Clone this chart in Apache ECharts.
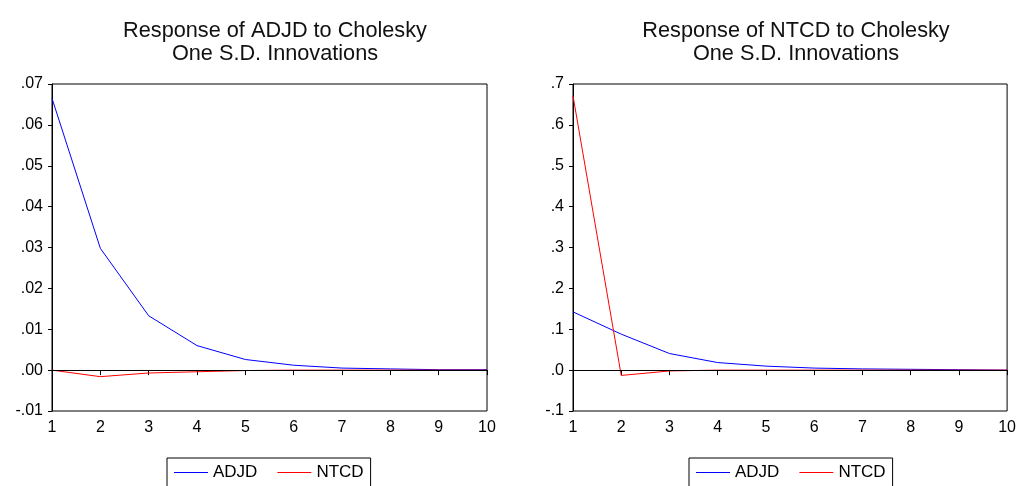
<!DOCTYPE html>
<html>
<head>
<meta charset="utf-8">
<script src="https://cdn.jsdelivr.net/npm/echarts@6/dist/echarts.min.js"></script>
<style>
  html, body { margin: 0; padding: 0; background: #fff; }
  #chart { width: 1019px; height: 486px; }
</style>
</head>
<body>
<div id="chart"></div>
<script>
// periods
var periods = [1, 2, 3, 4, 5, 6, 7, 8, 9, 10];

// response of ADJD
var adjdOnAdjd = [0.0665, 0.0298, 0.0133, 0.0060, 0.0026, 0.0012, 0.0005, 0.0003, 0.0001, 0.0001];
var adjdOnNtcd = [0.0, -0.0016, -0.0007, -0.0004, -0.0001, 0.0, 0.0, 0.0, 0.0, 0.0];

// response of NTCD
var ntcdOnAdjd = [0.1425, 0.088, 0.0406, 0.0185, 0.0098, 0.005, 0.003, 0.002, 0.001, 0.0];
var ntcdOnNtcd = [0.671, -0.013, -0.002, 0.0, 0.0, 0.0, 0.0, 0.0, 0.0, 0.0];

var seriesNames = ['ADJD', 'NTCD'];
var titles = ['Response of ADJD to Cholesky\nOne S.D. Innovations', 'Response of NTCD to Cholesky\nOne S.D. Innovations'];

function pairs(vals) {
    var out = [];
    for (var i = 0; i < periods.length; i++) {
        out.push([periods[i], vals[i]]);
    }
    return out;
}

function dotLabel(digits) {
    return function (v) {
        var s = v.toFixed(digits);
        return s.replace('0.', '.');
    };
}

var font = 'Arial, "Liberation Sans", sans-serif';
var blue = '#0000ff';
var red = '#ff0000';

function lineSeries(name, vals, idx, color, zero) {
    var s = {
        name: name,
        type: 'line',
        xAxisIndex: idx,
        yAxisIndex: idx,
        data: pairs(vals),
        showSymbol: false,
        symbol: 'none',
        animation: false,
        lineStyle: { color: color, width: 1 },
        itemStyle: { color: color }
    };
    if (zero) {
        s.markLine = {
            silent: true,
            symbol: 'none',
            label: { show: false },
            lineStyle: { color: '#000', width: 1, type: 'solid' },
            data: [{ yAxis: 0 }]
        };
    }
    return s;
}

function xAxis(idx) {
    return {
        type: 'value',
        gridIndex: idx,
        min: 1,
        max: 10,
        interval: 1,
        axisLine: { lineStyle: { color: '#000', width: 1 } },
        axisTick: { length: 5, lineStyle: { color: '#000' } },
        axisLabel: { color: '#000', fontSize: 16, fontFamily: font, margin: 9 },
        splitLine: { show: false }
    };
}

function yAxis(idx, min, max, step, digits) {
    return {
        type: 'value',
        gridIndex: idx,
        min: min,
        max: max,
        interval: step,
        axisLine: { show: true, lineStyle: { color: '#000', width: 1 } },
        axisTick: { show: true, length: 4, lineStyle: { color: '#000' } },
        axisLabel: { color: '#000', fontSize: 16, fontFamily: font, margin: 9, formatter: dotLabel(digits) },
        splitLine: { show: false }
    };
}

function legend(left) {
    return {
        data: seriesNames,
        left: left,
        top: 458,
        orient: 'horizontal',
        icon: 'rect',
        itemWidth: 34,
        itemHeight: 1,
        itemGap: 20,
        padding: [6, 7, 10, 7],
        borderColor: '#000',
        borderWidth: 1,
        selectedMode: false,
        textStyle: { color: '#000', fontSize: 17, fontFamily: font }
    };
}

var chart = echarts.init(document.getElementById('chart'));
chart.setOption({
    animation: false,
    color: [blue, red],
    title: [
        { text: titles[0], left: 270, top: 15, textAlign: 'center',
          textStyle: { fontSize: 21.7, fontWeight: 'normal', color: '#111', fontFamily: font, lineHeight: 23 } },
        { text: titles[1], left: 791, top: 15, textAlign: 'center',
          textStyle: { fontSize: 21.7, fontWeight: 'normal', color: '#111', fontFamily: font, lineHeight: 23 } }
    ],
    legend: [legend(167), legend(689)],
    grid: [
        { left: 52, top: 84, width: 435, height: 327, show: true, borderColor: '#000', borderWidth: 1, backgroundColor: '#fff' },
        { left: 573, top: 84, width: 436, height: 327, show: true, borderColor: '#000', borderWidth: 1, backgroundColor: '#fff' }
    ],
    xAxis: [xAxis(0), xAxis(1)],
    yAxis: [
        yAxis(0, -0.01, 0.07, 0.01, 2),
        yAxis(1, -0.1, 0.7, 0.1, 1)
    ],
    series: [
        lineSeries('ADJD', adjdOnAdjd, 0, blue, true),
        lineSeries('NTCD', adjdOnNtcd, 0, red, false),
        lineSeries('ADJD', ntcdOnAdjd, 1, blue, true),
        lineSeries('NTCD', ntcdOnNtcd, 1, red, false)
    ]
});
</script>
</body>
</html>
